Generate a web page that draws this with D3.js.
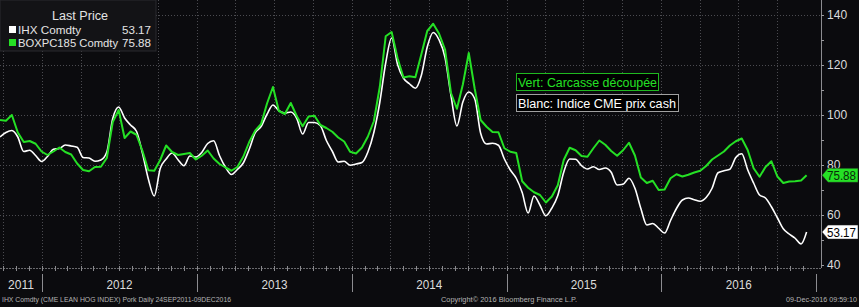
<!DOCTYPE html>
<html>
<head>
<meta charset="utf-8">
<script src="https://cdn.jsdelivr.net/npm/d3@7"></script>
<style>
html, body { margin: 0; padding: 0; background: #0b0b0e; }
svg { display: block; font-family: "Liberation Sans", Arial, sans-serif; }
</style>
</head>
<body>
<svg id="chart" width="859" height="307"></svg>
<script>
// two-week sampling from 24 Sep 2011 to 09 Dec 2016
const startDate = new Date(2011, 8, 24);
const endDate = new Date(2016, 11, 9);
const stepDays = 14;

// IHX Comdty (CME lean hog index) - white
const ihxValues = [
  91.2, 93.0, 93.8, 91.2, 85.4, 85.9, 83.8, 81.4, 83.4, 86.3,
  86.6, 88.0, 87.6, 87.1, 83.0, 82.8, 81.5, 82.0, 85.2, 98.6,
  103.2, 98.8, 96.0, 93.5, 84.8, 74.4, 67.6, 78.6, 82.4, 84.8,
  82.1, 79.7, 83.6, 83.2, 85.0, 88.6, 89.7, 83.7, 79.1, 76.2,
  78.2, 80.8, 86.3, 92.8, 95.4, 100.3, 104.0, 101.7, 100.8, 101.2,
  98.7, 92.4, 97.0, 97.0, 95.7, 89.8, 85.5, 81.2, 81.5, 79.9,
  80.4, 81.0, 85.2, 93.0, 105.0, 120.8, 130.8, 120.2, 114.7, 112.5,
  110.7, 115.8, 127.2, 133.0, 130.0, 123.0, 107.8, 95.6, 105.2, 109.2,
  106.5, 92.7, 88.4, 88.7, 87.9, 82.4, 78.0, 74.7, 69.0, 60.8,
  67.6, 63.9, 59.7, 62.8, 67.8, 77.1, 82.4, 82.3, 79.7, 78.4,
  79.3, 78.2, 78.8, 77.1, 72.0, 72.3, 74.7, 70.7, 62.6, 56.0,
  56.6, 54.7, 52.8, 57.8, 62.6, 66.0, 66.8, 66.1, 65.5, 67.0,
  70.7, 76.9, 77.7, 78.3, 83.0, 84.5, 78.1, 72.8, 68.0, 66.8,
  63.3, 58.9, 54.5, 52.4, 50.7, 48.4, 53.17
];

// BOXPC185 Comdty (pork cutout) - green
const boxValues = [
  98.0, 97.7, 100.0, 93.0, 89.2, 89.6, 88.5, 85.4, 84.0, 85.4,
  87.0, 85.2, 84.2, 80.6, 78.0, 77.5, 79.2, 79.3, 82.8, 97.2,
  102.0, 90.8, 93.4, 92.1, 85.7, 77.9, 77.7, 82.0, 87.8, 85.2,
  84.0, 84.4, 84.8, 82.2, 83.7, 85.8, 82.6, 80.4, 79.0, 77.7,
  79.2, 83.3, 89.2, 93.7, 96.4, 104.6, 111.2, 101.6, 100.4, 104.8,
  99.6, 95.5, 99.4, 99.7, 96.0, 94.8, 93.3, 91.0, 89.4, 85.3,
  84.6, 87.0, 91.4, 97.5, 111.2, 131.5, 133.2, 122.7, 115.0, 115.5,
  115.1, 124.2, 133.6, 136.5, 132.5, 126.2, 108.8, 102.5, 112.2, 124.8,
  110.5, 98.0, 95.3, 93.2, 93.1, 86.7, 85.3, 84.8, 73.5, 70.9,
  69.1, 68.0, 65.0, 67.4, 71.9, 82.0, 86.9, 85.9, 83.6, 83.3,
  86.7, 89.8, 88.1, 85.6, 83.7, 85.9, 88.9, 83.8, 75.0, 72.8,
  73.7, 70.0, 70.2, 74.7, 76.3, 75.4, 76.1, 77.0, 77.7, 79.6,
  82.2, 83.8, 85.4, 87.8, 89.5, 90.6, 86.0, 78.7, 75.3, 79.2,
  81.5, 75.4, 72.8, 73.4, 73.5, 73.8, 75.88
];

const seriesNames = ["IHX Comdty", "BOXPC185 Comdty"];
const lastPrices = [53.17, 75.88];
const yTickLabels = [40, 60, 80, 100, 120, 140];
const years = [2011, 2012, 2013, 2014, 2015, 2016];
const noteGreen = "Vert: Carcasse découpée";
const noteWhite = "Blanc: Indice CME prix cash";
const footLeft = "IHX Comdty (CME LEAN HOG INDEX) Pork  Daily 24SEP2011-09DEC2016";
const footMid = "Copyright\u00a9 2016 Bloomberg Finance L.P.";
const footRight = "09-Dec-2016 09:59:10";

const green = "#25e025";
const W = 859, H = 307;
const plotRight = 821, plotBottom = 268;

// the Bloomberg font is narrow; squeeze text to the widths it takes there
function fit(sel, w) {
  return sel.attr("textLength", w).attr("lengthAdjust", "spacingAndGlyphs");
}

const svg = d3.select("#chart");
svg.append("rect").attr("width", W).attr("height", H).attr("fill", "#0b0b0e");

const dates = ihxValues.map((v, i) =>
  i === ihxValues.length - 1 ? endDate : d3.timeDay.offset(startDate, i * stepDays));

const x = d3.scaleTime()
  .domain([startDate, new Date(2017, 0, 12)])
  .range([0, plotRight]);
const y = d3.scaleLinear().domain([40, 140]).range([265, 15]);

// grid
const grid = svg.append("g").attr("stroke", "#4b4b50").attr("stroke-dasharray", "1,2");
grid.selectAll(".hg").data(yTickLabels.filter(d => d > 40)).enter().append("line")
  .attr("x1", 0).attr("x2", plotRight)
  .attr("y1", d => y(d) + 0.5).attr("y2", d => y(d) + 0.5);
grid.selectAll(".vg").data(d3.timeMonth.every(3).range(new Date(2011, 9, 1), new Date(2016, 11, 31)))
  .enter().append("line")
  .attr("x1", d => Math.round(x(d)) + 0.5).attr("x2", d => Math.round(x(d)) + 0.5)
  .attr("y1", 0).attr("y2", plotBottom);

// bottom axis line with month ticks
svg.append("line").attr("x1", 0).attr("x2", plotRight)
  .attr("y1", plotBottom + 0.5).attr("y2", plotBottom + 0.5)
  .attr("stroke", "#6a6a6e").attr("stroke-dasharray", "2,1");
svg.append("g").selectAll("line")
  .data(d3.timeMonth.range(new Date(2011, 9, 1), new Date(2016, 11, 31)))
  .enter().append("line")
  .attr("x1", d => Math.round(x(d)) + 0.5).attr("x2", d => Math.round(x(d)) + 0.5)
  .attr("y1", plotBottom - 2).attr("y2", plotBottom + 3)
  .attr("stroke", "#8a8a8e");

// year separators and labels
const yearStarts = years.map(yr => new Date(yr + 1, 0, 1));
svg.append("g").selectAll("line").data(yearStarts).enter().append("line")
  .attr("x1", d => Math.round(x(d)) + 0.5).attr("x2", d => Math.round(x(d)) + 0.5)
  .attr("y1", 274).attr("y2", 292)
  .attr("stroke", "#8c8c90");
svg.append("g").selectAll("text").data(years).enter().append("text")
  .attr("x", yr => (Math.max(0, x(new Date(yr, 0, 1))) + x(new Date(yr + 1, 0, 1))) / 2 - 13)
  .attr("y", 289)
  .attr("font-size", 12.5)
  .attr("fill", "#dcdcdc")
  .attr("textLength", 26).attr("lengthAdjust", "spacingAndGlyphs")
  .text(d => d);

// right axis
svg.append("line").attr("x1", plotRight + 0.5).attr("x2", plotRight + 0.5)
  .attr("y1", 0).attr("y2", plotBottom).attr("stroke", "#8c8c90");
const yAxis = d3.axisRight(y)
  .tickValues(d3.range(40, 141, 10))
  .tickSize(3)
  .tickFormat(d => yTickLabels.includes(d) ? d : "");
const ag = svg.append("g").attr("transform", `translate(${plotRight},0)`).call(yAxis);
ag.attr("font-family", null).attr("font-size", null);
ag.select(".domain").remove();
ag.selectAll("line").attr("stroke", "#9a9a9e");
ag.selectAll("text").attr("fill", "#dcdcdc").attr("font-size", 12).attr("x", 6)
  .each(function(d) {
    if (yTickLabels.includes(d)) fit(d3.select(this), String(d).length * 6.7);
  });

// lines
const lineWhite = d3.line().x((d, i) => x(dates[i])).y(d => y(d)).curve(d3.curveMonotoneX);
const lineGreen = d3.line().x((d, i) => x(dates[i])).y(d => y(d));
svg.append("path").datum(ihxValues).attr("d", lineWhite)
  .attr("fill", "none").attr("stroke", "#ffffff").attr("stroke-width", 1.6)
  .attr("stroke-linejoin", "round");
svg.append("path").datum(boxValues).attr("d", lineGreen)
  .attr("fill", "none").attr("stroke", green).attr("stroke-width", 2)
  .attr("stroke-linejoin", "round");

// last price tags on right axis
const tags = [
  { v: lastPrices[1], fill: green, text: "#0a2a0a" },
  { v: lastPrices[0], fill: "#ffffff", text: "#000000" }
];
tags.forEach(t => {
  const cy = y(t.v);
  svg.append("path")
    .attr("d", `M${plotRight + 1},${cy} L${plotRight + 7},${cy - 7} L${W - 1},${cy - 7} L${W - 1},${cy + 7} L${plotRight + 7},${cy + 7} Z`)
    .attr("fill", t.fill).attr("stroke", "#222").attr("stroke-width", 0.5);
  fit(svg.append("text").attr("x", 827).attr("y", cy + 4.5)
    .attr("font-size", 12).attr("fill", t.text)
    .text(t.v.toFixed(2)), 29);
});

// annotations
svg.append("rect").attr("x", 516.5).attr("y", 73.5).attr("width", 142).attr("height", 17)
  .attr("fill", "#000").attr("stroke", "#1fb81f");
fit(svg.append("text").attr("x", 518).attr("y", 86.5).attr("font-size", 12.3).attr("fill", green).text(noteGreen), 139);
svg.append("rect").attr("x", 516.5).attr("y", 94.5).attr("width", 162).attr("height", 17)
  .attr("fill", "#000").attr("stroke", "#a0a0a0");
fit(svg.append("text").attr("x", 518).attr("y", 107.5).attr("font-size", 12.3).attr("fill", "#ffffff").text(noteWhite), 158);

// legend
const lg = svg.append("g");
lg.append("rect").attr("x", 0).attr("y", 0).attr("width", 156).attr("height", 51)
  .attr("fill", "#131316").attr("stroke", "#2a2a2e");
fit(lg.append("text").attr("x", 52).attr("y", 19.5)
  .attr("font-size", 12.5).attr("fill", "#e4e4e4").text("Last Price"), 56);
const legendColors = ["#ffffff", green];
const nameWidths = [63, 100];
seriesNames.forEach((name, i) => {
  const yy = 34 + i * 13;
  lg.append("rect").attr("x", 9).attr("y", yy - 8).attr("width", 7).attr("height", 7).attr("fill", legendColors[i]);
  fit(lg.append("text").attr("x", 18).attr("y", yy).attr("font-size", 11.5).attr("fill", "#e4e4e4").text(name), nameWidths[i]);
  fit(lg.append("text").attr("x", 122).attr("y", yy)
    .attr("font-size", 11.5).attr("fill", "#e4e4e4").text(lastPrices[i].toFixed(2)), 29);
});

// footer
const ft = svg.append("g").attr("font-size", 7).attr("fill", "#b4b4b4");
fit(ft.append("text").attr("x", 2).attr("y", 302).text(footLeft), 229);
fit(ft.append("text").attr("x", 441).attr("y", 302).text(footMid), 136);
fit(ft.append("text").attr("x", 786).attr("y", 302).text(footRight), 71);
</script>
</body>
</html>
